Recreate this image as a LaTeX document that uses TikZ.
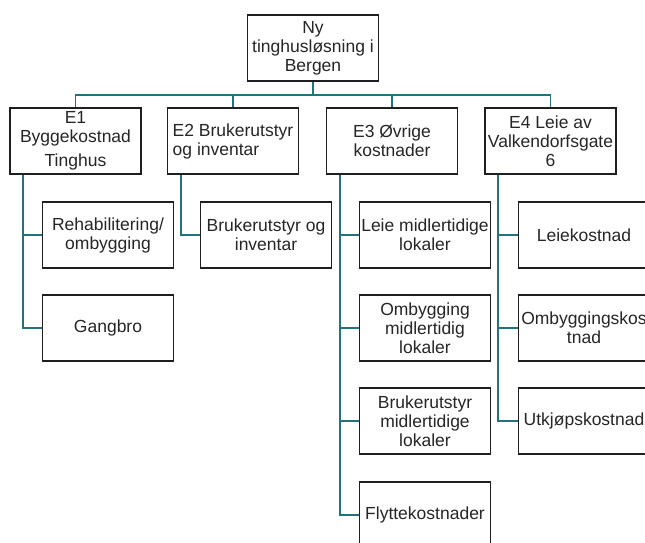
\documentclass[tikz,border=0pt]{standalone}
\usepackage{fontspec}
\setmainfont{Liberation Sans}
\begin{document}
\begin{tikzpicture}[x=1pt,y=-1pt,
  box/.style={draw=black!88, line width=1.8pt, fill=white, inner sep=1pt,
    minimum width=131pt, minimum height=66pt, align=center,
    text=black!85, font=\fontsize{17.5}{19}\selectfont},
  conn/.style={draw={rgb,255:red,35;green,115;blue,125}, line width=1.8pt}]
\useasboundingbox (0,0) rectangle (645,543);
\clip (0,0) rectangle (645,543);

% top level
\node[box] (root) at (313,48) {Ny\\tinghusløsning i\\Bergen};

% second level
\node[box] (e1) at (75.5,141) {E1\\Byggekostnad\\[5pt]Tinghus};
\node[box, align=left] (e2) at (233,141) {E2 Brukerutstyr\\og inventar};
\node[box] (e3) at (392,141) {E3 Øvrige\\kostnader};
\node[box] (e4) at (550.5,141) {E4 Leie av\\Valkendorfsgate\\6};

% E1 items
\node[box] (rehab) at (108,235) {Rehabilitering/\\ombygging};
\node[box] (gangbro) at (108,328) {Gangbro};

% E2 items
\node[box] (inventar) at (266,235) {Brukerutstyr og\\inventar};

% E3 items
\node[box] (leiemid) at (425,235) {Leie midlertidige\\lokaler};
\node[box] (ombmid) at (425,328) {Ombygging\\midlertidig\\lokaler};
\node[box] (brukmid) at (425,421) {Brukerutstyr\\midlertidige\\lokaler};
\node[box] (flytte) at (425,515) {Flyttekostnader};

% E4 items
\node[box] (leiekost) at (584,235) {Leiekostnad};
\node[box] (ombkost) at (584,328) {Ombyggingskos\\tnad};
\node[box] (utkjop) at (584,421) {Utkjøpskostnad};

% bus from the top box to the second level
\coordinate (bus) at (0,95);
\draw[conn] (root.south) -- (root.south |- bus);
\draw[conn] (e1.north) -- (e1.north |- bus) -- (e4.north |- bus) -- (e4.north);
\draw[conn] (e2.north) -- (e2.north |- bus);
\draw[conn] (e3.north) -- (e3.north |- bus);

% side rails to the items
\coordinate (r1) at ([xshift=13.5pt]e1.south west);
\coordinate (r2) at ([xshift=14pt]e2.south west);
\coordinate (r3) at ([xshift=14pt]e3.south west);
\coordinate (r4) at ([xshift=13.5pt]e4.south west);
\draw[conn] (r1) |- (rehab.west);
\draw[conn] (r1) |- (gangbro.west);
\draw[conn] (r2) |- (inventar.west);
\draw[conn] (r3) |- (leiemid.west);
\draw[conn] (r3) |- (ombmid.west);
\draw[conn] (r3) |- (brukmid.west);
\draw[conn] (r3) |- (flytte.west);
\draw[conn] (r4) |- (leiekost.west);
\draw[conn] (r4) |- (ombkost.west);
\draw[conn] (r4) |- (utkjop.west);
\end{tikzpicture}
\end{document}
